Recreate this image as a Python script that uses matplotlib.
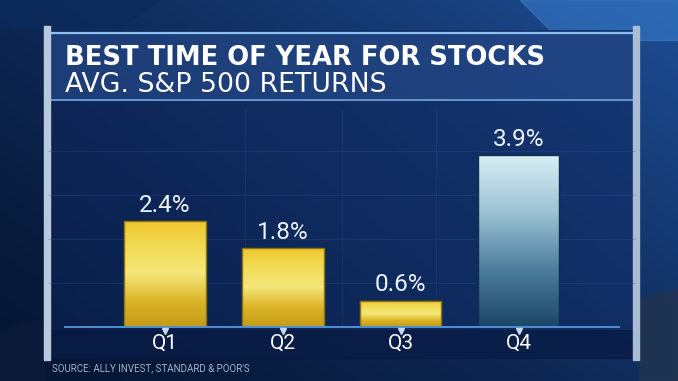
import numpy as np
import matplotlib.pyplot as plt
from matplotlib.patches import Rectangle, Polygon
from matplotlib.colors import LinearSegmentedColormap

# --------------------------------------------------
# DATA
# --------------------------------------------------
quarters = ["Q1", "Q2", "Q3", "Q4"]
returns = [2.4, 1.8, 0.6, 3.9]
value_labels = ["2.4%", "1.8%", "0.6%", "3.9%"]
title = "BEST TIME OF YEAR FOR STOCKS"
subtitle = "AVG. S&P 500 RETURNS"
source = "SOURCE: ALLY INVEST, STANDARD & POOR'S"

W, H = 678, 381
fig = plt.figure(figsize=(W / 100, H / 100), dpi=100)

# --------------------------------------------------
# BACKGROUND (pixel coords, y down)
# --------------------------------------------------
bg = fig.add_axes([0, 0, 1, 1])
bg.set_xlim(0, W)
bg.set_ylim(H, 0)
bg.axis("off")

yy, xx = np.mgrid[0:H, 0:W]
t = 0.55 * (xx / W) + 0.45 * (1 - yy / H)
dark = np.array([6, 22, 52]) / 255
light = np.array([30, 78, 150]) / 255
img = dark + (light - dark) * t[..., None] ** 1.4
bg.imshow(img, extent=[0, W, H, 0], aspect="auto", zorder=0)

# studio slabs
bg.add_patch(Polygon([[520, 0], [678, 0], [678, 40], [560, 40]], color="#3a80d0", alpha=0.55, zorder=1))
bg.add_patch(Polygon([[0, 0], [160, 0], [120, 28], [0, 28]], color="#0b2a5c", alpha=0.7, zorder=1))
bg.add_patch(Polygon([[640, 300], [678, 290], [678, 381], [640, 381]], color="#22344f", alpha=0.8, zorder=1))
bg.add_patch(Polygon([[0, 330], [45, 320], [45, 381], [0, 381]], color="#0a1a38", alpha=0.8, zorder=1))

# main panel
px0, px1, py0, py1 = 48, 636, 30, 358
gy, gx = np.mgrid[0:100, 0:100]
pt = 0.6 * (gx / 100) + 0.4 * (1 - gy / 100)
c0 = np.array([9, 30, 72]) / 255
c1 = np.array([22, 56, 118]) / 255
pan = c0 + (c1 - c0) * pt[..., None]
bg.imshow(pan, extent=[px0, px1, py1, py0], aspect="auto", zorder=2)
# darker strip under the baseline
bg.add_patch(Rectangle((px0, 330), px1 - px0, py1 - 330, color="#081a42", alpha=0.75, zorder=2))

# title band
bg.add_patch(Rectangle((px0, 33), px1 - px0, 67, color="#2a5090", alpha=0.55, zorder=3))
bg.plot([px0, px1], [33, 33], color="#8cc0ee", lw=1.6, zorder=4)
bg.plot([px0, px1], [100, 100], color="#6fa6dc", lw=1.2, zorder=4)

# side posts
bg.add_patch(Rectangle((44, 26), 6, 334, color="#b9c9dd", zorder=4))
bg.add_patch(Rectangle((633, 26), 6, 334, color="#a9bcd4", zorder=4))

bg.text(65, 65, title, fontsize=18.6, fontweight="bold", color="white",
        family="DejaVu Sans", va="baseline", ha="left", zorder=5)
bg.text(65, 92, subtitle, fontsize=19.3, color="white",
        family="DejaVu Sans", va="baseline", ha="left", zorder=5)
bg.text(52, 368, source, fontsize=7, color="#9fb0c8",
        family="Roboto", va="center", ha="left", zorder=5)

# --------------------------------------------------
# BARS
# --------------------------------------------------
base_px = 327
top_px = 110
ax = fig.add_axes([px0 / W, (H - base_px) / H, (px1 - px0) / W, (base_px - top_px) / H])
ax.patch.set_alpha(0)
x = np.arange(len(quarters))
xlim = (-0.994, 3.997)
ylim = (0, 4.93)

gold = LinearSegmentedColormap.from_list(
    "gold", ["#c49a18", "#dcb527", "#f4e67a", "#f2dc55", "#efc62c"])
ice = LinearSegmentedColormap.from_list(
    "ice", ["#1b4668", "#4d7d9c", "#9cc2d4", "#d8eef5"])
cmaps = [gold, gold, gold, ice]
edges = ["#8f7210", "#8f7210", "#8f7210", "#0e2f4c"]

for i in range(len(quarters)):
    bar = ax.bar(x[i], returns[i], width=0.69, facecolor="none",
                 edgecolor=edges[i], lw=1.0, zorder=3)[0]
    grad = np.linspace(0, 1, 256).reshape(-1, 1)
    im = ax.imshow(grad, cmap=cmaps[i], origin="lower", aspect="auto",
                   extent=[x[i] - 0.345, x[i] + 0.345, 0, returns[i]], zorder=2)
    im.set_clip_path(bar)
    ax.annotate(value_labels[i], (x[i], returns[i]), xytext=(0, 3),
                textcoords="offset points", ha="center", va="bottom",
                fontsize=17.5, color="#eef3fa", family="Roboto")
    ax.text(x[i], -0.37, quarters[i], ha="center", va="center",
            fontsize=15, color="white", family="Roboto", clip_on=False)

# faint grid
for g in [1, 2, 3, 4]:
    ax.axhline(g, color="#2e5596", lw=0.7, alpha=0.3, zorder=1)
for g in [0.68, 1.5, 2.3]:
    ax.axvline(g, color="#2e5596", lw=0.7, alpha=0.25, zorder=1)

# baseline and markers
ax.plot([-0.85, 3.85], [0, 0], color="#4f8fd2", lw=1.4, zorder=4, clip_on=False)
ax.plot(x, [-0.08] * len(x), ls="none", marker="v", ms=5, color="#c9d8ea",
        zorder=5, clip_on=False)

ax.set_xlim(*xlim)
ax.set_ylim(*ylim)
ax.axis("off")

fig.savefig("out.png", dpi=100)
